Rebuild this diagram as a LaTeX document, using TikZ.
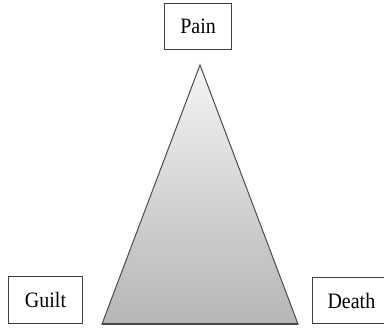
\documentclass[tikz,border=0pt]{standalone}
\usepackage{fontspec}
\setmainfont{Liberation Serif}
\newfontfamily\labelfont{Liberation Serif}
\begin{document}
\begin{tikzpicture}[x=1pt,y=-1pt,
  labelbox/.style={draw=black!75, line width=1.1pt, fill=white, inner sep=0pt,
    font=\labelfont\fontsize{20}{23}\selectfont, anchor=north west}]
\useasboundingbox (0,0) rectangle (384,330);
\clip (0,0) rectangle (384,330);
% central triangle with vertical gradient
\coordinate (apex) at (200,65);
\coordinate (bl) at (102,324);
\coordinate (br) at (298,324);
\shade[top color=gray!8, bottom color=gray!58, draw=black!70, line width=1pt]
  (apex) -- (br) -- (bl) -- cycle;
\draw[black!72, line width=2.6pt] (bl) -- (br);
% labels, set slightly taller than the base font
\node[labelbox, minimum width=67pt, minimum height=46pt] (pain) at (164,3) {\scalebox{1}[1.1]{Pain}};
\node[labelbox, minimum width=74pt, minimum height=47pt] (guilt) at (8,276) {\scalebox{1}[1.1]{Guilt}};
\node[labelbox, minimum width=76pt, minimum height=46pt, text width=72pt, align=left] (death) at (312,277) {\hspace{13pt}\scalebox{1}[1.1]{Death}};
\end{tikzpicture}
\end{document}
